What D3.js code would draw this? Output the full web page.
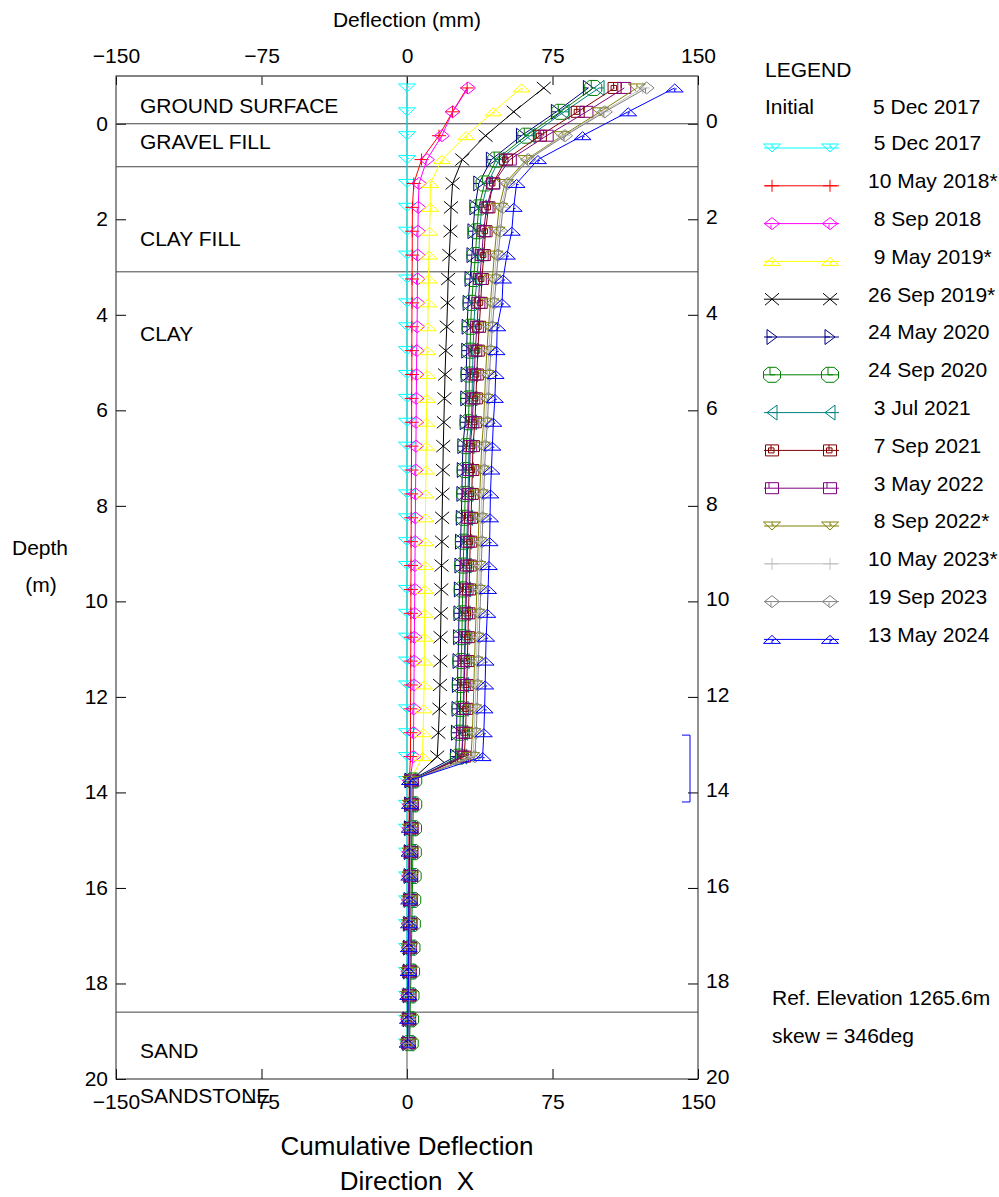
<!DOCTYPE html>
<html>
<head>
<meta charset="utf-8">
<script src="https://cdn.jsdelivr.net/npm/d3@7"></script>
<style>
  body { margin: 0; background: #fff; }
  svg { font-family: "Liberation Sans", Arial, sans-serif; }
  .lbl { white-space: pre; }
</style>
</head>
<body>
<div id="chart"></div>
<script>
// Inclinometer profile - cumulative deflection, direction X

// depth of each reading (m)
const depths = [-0.75, -0.25, 0.25, 0.75, 1.25, 1.75, 2.25, 2.75, 3.25, 3.75,
    4.25, 4.75, 5.25, 5.75, 6.25, 6.75, 7.25, 7.75, 8.25, 8.75,
    9.25, 9.75, 10.25, 10.75, 11.25, 11.75, 12.25, 12.75, 13.25, 13.75,
    14.25, 14.75, 15.25, 15.75, 16.25, 16.75, 17.25, 17.75, 18.25, 18.75, 19.25];

// deflection (mm) per survey
const dec2017 = [0, 0, 0, 0, 0, 0, 0, 0, 0, 0,
    0, 0, 0, 0, 0, 0, 0, 0, 0, 0,
    0, 0, 0, 0, 0, 0, 0, 0, 0, 0,
    0, 0, 0, 0, 0, 0, 0, 0, 0, 0, 0];
const may2018 = [31, 23.5, 16.5, 7.5, 3.5, 2.8, 2.7, 2.7, 2.6, 2.6,
    2.5, 2.5, 2.5, 2.4, 2.4, 2.3, 2.3, 2.2, 2.2, 2.1,
    2.1, 2.0, 2.0, 2.0, 1.9, 1.9, 1.8, 1.8, 1.8, 1.2,
    1.1, 1.0, 1.0, 0.9, 0.8, 0.7, 0.6, 0.5, 0.4, 0.3, 0.2];
const sep2018 = [31.5, 23.5, 18, 10.3, 6.2, 5.8, 5.6, 5.5, 5.4, 5.3,
    5.2, 5.0, 4.9, 4.8, 4.7, 4.6, 4.5, 4.4, 4.3, 4.2,
    4.1, 4.0, 3.9, 3.8, 3.7, 3.6, 3.5, 3.4, 3.3, 1.5,
    1.4, 1.3, 1.2, 1.1, 1.0, 0.9, 0.8, 0.7, 0.6, 0.5, 0.4];
const may2019 = [59, 44.5, 30.5, 18, 12, 12, 11.6, 11.3, 11.1, 10.9,
    10.7, 10.4, 10.3, 10.2, 10.0, 9.9, 9.8, 9.6, 9.5, 9.4,
    9.3, 9.2, 9.1, 9.0, 8.9, 8.8, 8.6, 8.3, 8.0, 1.8,
    1.7, 1.6, 1.5, 1.4, 1.2, 1.1, 1.0, 0.9, 0.7, 0.6, 0.5];
const sep2019 = [70.5, 55, 40.5, 28.5, 23.5, 22.7, 22.4, 21.8, 21.2, 20.9,
    20.5, 20.0, 19.6, 19.3, 19.0, 18.7, 18.5, 18.3, 18.1, 18.0,
    17.8, 17.7, 17.5, 17.3, 17.2, 17.0, 16.7, 16.2, 15.6, 2.2,
    2.0, 1.9, 1.8, 1.7, 1.5, 1.4, 1.2, 1.1, 0.9, 0.8, 0.6];
const may2020 = [93.5, 77, 59, 43.5, 37, 35, 34, 33.5, 32.5, 31.5,
    31, 30.8, 30.5, 30.3, 30, 28.8, 28.5, 28.3, 28, 27.6,
    27.3, 27, 26.8, 26.6, 26.3, 26, 25.8, 25.5, 25, 1.5,
    1.4, 1.3, 1.2, 1.1, 1.0, 0.9, 0.8, 0.7, 0.6, 0.5, 0.4];
const sep2020 = [96, 79, 61.5, 46, 40, 37, 36, 35.3, 34.3, 33.3,
    32.8, 32.5, 32.2, 32, 31.7, 30.5, 30.2, 30, 29.7, 29.3,
    29, 28.7, 28.5, 28.3, 28, 27.7, 27.5, 27.2, 26.7, 3.2,
    3.2, 3.1, 3.0, 2.9, 2.7, 2.5, 2.3, 2.1, 1.8, 1.6, 1.4];
const jul2021 = [99, 81, 63.5, 47.5, 41.5, 38.5, 37.5, 37, 36, 35,
    34.5, 34, 33.8, 33.5, 33.2, 32, 31.7, 31.5, 31.2, 30.8,
    30.5, 30.2, 30, 29.8, 29.5, 29.2, 29, 28.7, 28.2, 2.0,
    1.9, 1.8, 1.7, 1.6, 1.5, 1.3, 1.2, 1.0, 0.9, 0.8, 0.6];
const sep2021 = [107, 88, 68.5, 51, 44.3, 42, 40.5, 39.6, 38.6, 38,
    37.2, 36.5, 36, 35.5, 35, 34, 33.7, 33.4, 33, 32.6,
    32.3, 32, 31.7, 31.4, 31.1, 30.8, 30.5, 30.2, 29.5, 2.4,
    2.3, 2.2, 2.1, 2.0, 1.8, 1.7, 1.5, 1.3, 1.1, 1.0, 0.8];
const may2022 = [112, 92.5, 72, 53, 44.5, 41, 39.5, 38.5, 37.5, 36.8,
    36, 35.2, 34.7, 34.2, 33.7, 32.6, 32.3, 32, 31.7, 31.3,
    31, 30.7, 30.4, 30.1, 29.8, 29.5, 29.2, 28.9, 28.3, 2.6,
    2.5, 2.4, 2.3, 2.2, 2.0, 1.8, 1.6, 1.5, 1.3, 1.1, 0.9];
const sep2022 = [118.5, 99.5, 80, 61.5, 50.5, 47.5, 46.2, 45, 44, 43,
    42, 41.2, 40.5, 40, 39.5, 38.5, 38, 37.5, 37.1, 36.7,
    36.3, 36, 35.6, 35.2, 34.8, 34.5, 34.1, 33.7, 33, 2.0,
    1.9, 1.9, 1.8, 1.7, 1.5, 1.4, 1.2, 1.1, 1.0, 0.8, 0.7];
const may2023 = [121.5, 101, 80.5, 62, 51.5, 48.5, 47.2, 46, 45, 44,
    43, 42.2, 41.5, 41, 40.5, 39.5, 39, 38.5, 38.1, 37.7,
    37.3, 37, 36.6, 36.2, 35.8, 35.5, 35.1, 34.7, 34, 2.2,
    2.1, 2.0, 1.9, 1.8, 1.6, 1.5, 1.3, 1.2, 1.0, 0.9, 0.7];
const sep2023 = [123.5, 102, 81.5, 62.5, 52, 49.5, 48.2, 47, 46, 45,
    44, 43.2, 42.5, 42, 41.5, 40.5, 40, 39.5, 39.1, 38.7,
    38.3, 38, 37.6, 37.2, 36.8, 36.5, 36.1, 35.7, 35, 1.8,
    1.7, 1.6, 1.6, 1.5, 1.4, 1.3, 1.1, 1.0, 0.9, 0.8, 0.6];
const may2024 = [138, 114, 90.5, 67.5, 56.5, 55, 54, 51.5, 49.5, 49,
    46.5, 46.2, 45.7, 45.3, 44.5, 44, 43.5, 43, 42.8, 42.6,
    42.2, 41.8, 41.4, 40.8, 40.5, 40.3, 40, 39.6, 39, 1.5,
    1.5, 1.4, 1.3, 1.2, 1.1, 1.0, 0.9, 0.8, 0.6, 0.5, 0.3];

const surveyNames = [" 5 Dec 2017", "10 May 2018*", " 8 Sep 2018", " 9 May 2019*", "26 Sep 2019*",
    "24 May 2020", "24 Sep 2020", " 3 Jul 2021", " 7 Sep 2021", " 3 May 2022",
    " 8 Sep 2022*", "10 May 2023*", "19 Sep 2023", "13 May 2024"];
const surveyValues = [dec2017, may2018, sep2018, may2019, sep2019, may2020, sep2020,
    jul2021, sep2021, may2022, sep2022, may2023, sep2023, may2024];

// styles
const colors = ["#00ffff", "#ff0000", "#ff00ff", "#ffff00", "#000000", "#000080", "#008000",
    "#008080", "#800000", "#800080", "#808000", "#c0c0c0", "#808080", "#0000ff"];
const markerTypes = ["triDown", "plus", "diamond", "triUp", "cross", "triRight", "octagon",
    "triLeft", "squareIn", "square", "triDown", "plus", "diamond", "triUp"];

// soil layers
const layerBounds = [0, 0.9, 3.1, 18.6];
const layerNames = ["GROUND SURFACE", "GRAVEL FILL", "CLAY FILL", "CLAY", "SAND", "SANDSTONE"];
const layerLabelDepths = [-0.37, 0.37, 2.4, 4.4, 19.4, 20.35];

const xTicks = [-150, -75, 0, 75, 150];
const yTicks = [0, 2, 4, 6, 8, 10, 12, 14, 16, 18, 20];
const bracketDepths = [12.8, 14.2];

const markerPath = {
    triDown: "M-8.5,-4H8.5L0,4Z M0,-4V-1H2",
    triUp: "M-8.5,4H8.5L0,-4Z M0,4V1H2",
    plus: "M-7,0H7M0,-6V6",
    diamond: "M-7.5,0L0,-6L7.5,0L0,6Z M-1,1V5",
    cross: "M-7,-6L7,6M-7,6L7,-6",
    triRight: "M-5,-7.5L5,0L-5,7.5Z M-5,0H0",
    triLeft: "M5,-7.5L-5,0L5,7.5Z M5,0H0",
    octagon: "M-8.5,-3.5L-4,-7.5H4L8.5,-3.5V3.5L4,7.5H-4L-8.5,3.5Z M-2,-7.5V0H3",
    squareIn: "M-6.5,-5.5H6.5V5.5H-6.5Z M-3.5,-2.5H2V2.5H-3.5Z M-1,-5.5V0",
    square: "M-6.5,-5.5H6.5V5.5H-6.5Z M-3,-5.5V0"
};

const FS = 21;
const W = 999, H = 1197;
const svg = d3.select("#chart").append("svg")
    .attr("width", W)
    .attr("height", H);

const x = d3.scaleLinear().domain([-150, 150]).range([116, 698]);
const y = d3.scaleLinear().domain([-1, 20]).range([76, 1079]);

// axes (ticks pointing inward)
const axTop = svg.append("g").attr("transform", `translate(0,${y(-1)})`)
    .call(d3.axisTop(x).tickValues(xTicks).tickSizeInner(-9).tickSizeOuter(0).tickPadding(13));
const axBottom = svg.append("g").attr("transform", `translate(0,${y(20)})`)
    .call(d3.axisBottom(x).tickValues(xTicks).tickSizeInner(-10).tickSizeOuter(0).tickPadding(15));
const axLeft = svg.append("g").attr("transform", `translate(${x(-150)},0)`)
    .call(d3.axisLeft(y).tickValues(yTicks).tickSizeInner(-10).tickSizeOuter(0).tickPadding(8));
const axRight = svg.append("g").attr("transform", `translate(${x(150)},0)`)
    .call(d3.axisRight(y).tickValues(yTicks).tickSizeInner(-10).tickSizeOuter(0).tickPadding(8));

[axTop, axBottom, axLeft, axRight].forEach(g => {
    g.select(".domain").remove();
    g.selectAll("text").attr("font-size", FS).attr("fill", "#000")
        .attr("font-family", '"Liberation Sans", Arial, sans-serif');
    g.selectAll("line").attr("stroke", "#000");
});
axRight.selectAll("text").attr("dy", "0.2em");
axLeft.selectAll("text").attr("dy", "0.3em");

// zero line
svg.append("line")
    .attr("x1", x(0)).attr("x2", x(0))
    .attr("y1", y(-1)).attr("y2", y(20))
    .attr("stroke", "#555");

// frame
svg.append("rect")
    .attr("x", x(-150)).attr("y", y(-1))
    .attr("width", x(150) - x(-150)).attr("height", y(20) - y(-1))
    .attr("fill", "none").attr("stroke", "#222");
svg.append("line")
    .attr("x1", x(-150)).attr("x2", x(150))
    .attr("y1", y(-1)).attr("y2", y(-1))
    .attr("stroke", "#777");

// layer boundaries
svg.selectAll(".layer")
    .data(layerBounds)
    .join("line")
    .attr("class", "layer")
    .attr("x1", x(-150)).attr("x2", x(150))
    .attr("y1", d => y(d)).attr("y2", d => y(d))
    .attr("stroke", "#444");

svg.selectAll(".layerName")
    .data(layerNames)
    .join("text")
    .attr("class", "layerName")
    .attr("x", 140)
    .attr("y", (d, i) => y(layerLabelDepths[i]))
    .attr("dy", "0.35em")
    .attr("font-size", FS)
    .text(d => d);

// survey profiles
const line = d3.line()
    .x(d => x(d.v))
    .y(d => y(d.depth));

surveyValues.forEach((vals, i) => {
    const pts = vals.map((v, j) => ({ v: v, depth: depths[j] }));
    const g = svg.append("g");
    g.append("path")
        .datum(pts)
        .attr("d", line)
        .attr("fill", "none")
        .attr("stroke", colors[i])
        .attr("stroke-width", 1);
    g.selectAll("path.mk")
        .data(pts)
        .join("path")
        .attr("class", "mk")
        .attr("transform", d => `translate(${x(d.v)},${y(d.depth)})`)
        .attr("d", markerPath[markerTypes[i]])
        .attr("fill", "none")
        .attr("stroke", colors[i])
        .attr("stroke-width", 1);
});

// bracket marking the shear zone
svg.append("path")
    .attr("d", `M${x(150) - 16},${y(bracketDepths[0])}H${x(150) - 8}V${y(bracketDepths[1])}H${x(150) - 16}`)
    .attr("fill", "none")
    .attr("stroke", "#0000ff");

// titles
svg.append("text")
    .attr("x", x(0)).attr("y", 20).attr("dy", "0.35em")
    .attr("text-anchor", "middle").attr("font-size", FS)
    .text("Deflection (mm)");
svg.append("text")
    .attr("x", x(0)).attr("y", 1146).attr("dy", "0.35em")
    .attr("text-anchor", "middle").attr("font-size", 26)
    .text("Cumulative Deflection");
svg.append("text")
    .attr("class", "lbl")
    .attr("x", x(0)).attr("y", 1181).attr("dy", "0.35em")
    .attr("text-anchor", "middle").attr("font-size", 26)
    .text("Direction  X");
svg.append("text")
    .attr("x", 40).attr("y", 548).attr("dy", "0.35em")
    .attr("text-anchor", "middle").attr("font-size", FS)
    .text("Depth");
svg.append("text")
    .attr("x", 41).attr("y", 585).attr("dy", "0.35em")
    .attr("text-anchor", "middle").attr("font-size", FS)
    .text("(m)");

// legend
const legend = svg.append("g");
legend.append("text").attr("x", 765).attr("y", 70).attr("dy", "0.35em")
    .attr("font-size", FS).text("LEGEND");
legend.append("text").attr("x", 765).attr("y", 107).attr("dy", "0.35em")
    .attr("font-size", FS).text("Initial");
legend.append("text").attr("x", 873).attr("y", 107).attr("dy", "0.35em")
    .attr("font-size", FS).text("5 Dec 2017");

surveyNames.forEach((name, i) => {
    const ly = 143 + i * 37.8;
    legend.append("text")
        .attr("class", "lbl")
        .attr("x", 868).attr("y", ly).attr("dy", "0.35em")
        .attr("font-size", FS)
        .text(name);
    legend.append("line")
        .attr("x1", 764).attr("x2", 839)
        .attr("y1", ly + 5).attr("y2", ly + 5)
        .attr("stroke", colors[i]);
    [772, 830].forEach(mx => {
        legend.append("path")
            .attr("transform", `translate(${mx},${ly + 5})`)
            .attr("d", markerPath[markerTypes[i]])
            .attr("fill", "none")
            .attr("stroke", colors[i]);
    });
});

svg.append("text").attr("x", 772).attr("y", 998).attr("dy", "0.35em")
    .attr("font-size", FS).text("Ref. Elevation 1265.6m");
svg.append("text").attr("x", 772).attr("y", 1036).attr("dy", "0.35em")
    .attr("font-size", FS).text("skew = 346deg");
</script>
</body>
</html>
